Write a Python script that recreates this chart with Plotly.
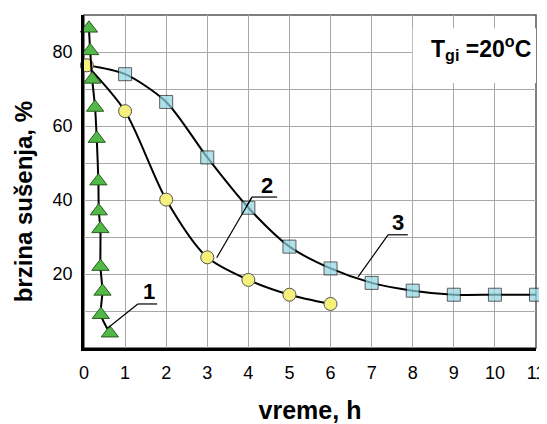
import plotly.graph_objects as go

# ---- data ----
s1_x = [0.12, 0.15, 0.20, 0.27, 0.31, 0.35, 0.36, 0.40, 0.40, 0.45, 0.41, 0.63]
s1_y = [86.4, 80.3, 72.6, 65.0, 56.6, 45.1, 37.0, 32.2, 22.0, 15.3, 9.0, 4.0]

s2_x = [0.07, 1, 2, 3, 4, 5, 6]
s2_y = [76.4, 64.0, 40.1, 24.5, 18.4, 14.4, 11.9]

s3_x = [0.07, 1, 2, 3, 4, 5, 6, 7, 8, 9, 10, 11]
s3_y = [76.4, 74.0, 66.5, 51.5, 37.9, 27.4, 21.5, 17.6, 15.5, 14.4, 14.4, 14.4]

x_ticks = list(range(0, 12))
y_ticks = [20, 40, 60, 80]
y_grid = [10, 20, 30, 40, 50, 60, 70, 80]

x_title = "vreme, h"
y_title = "brzina sušenja, %"
temp_label = "T<sub>gi</sub> =20<sup>o</sup>C"

FONT = "Liberation Sans, Arial, sans-serif"
GREEN = "#52b848"
BLUE = "#8fd4e2"
YELLOW = "#f6f07c"

fig = go.Figure()

# curve 3 (squares) - line starts at shared start point
fig.add_trace(go.Scatter(
    x=s3_x, y=s3_y, mode="lines+markers", cliponaxis=False,
    line=dict(color="black", width=2, shape="spline", smoothing=0.8),
    marker=dict(symbol="square", size=[0] + [13] * (len(s3_x) - 1), color=BLUE,
                line=dict(color="#1a1a1a", width=1)),
    showlegend=False, hoverinfo="skip"))

# curve 2 (circles)
fig.add_trace(go.Scatter(
    x=s2_x, y=s2_y, mode="lines+markers", cliponaxis=False,
    line=dict(color="black", width=2, shape="spline", smoothing=0.8),
    marker=dict(symbol="circle", size=13, color=YELLOW,
                line=dict(color="#555555", width=1)),
    showlegend=False, hoverinfo="skip"))

# curve 1 (triangles)
fig.add_trace(go.Scatter(
    x=s1_x, y=s1_y, mode="lines+markers", cliponaxis=False,
    line=dict(color="black", width=2, shape="spline", smoothing=0.6),
    marker=dict(symbol="triangle-up", size=15, color=GREEN,
                line=dict(color="#2a5a20", width=1)),
    showlegend=False, hoverinfo="skip"))

shapes = []
# white box behind temperature label (above grid, below traces)
shapes.append(dict(type="rect", xref="x", yref="y", x0=8.0, x1=11, y0=71.6, y1=86.4,
                   fillcolor="white", line=dict(width=0), layer="between"))
# frame (top/right gray)
shapes.append(dict(type="rect", xref="paper", yref="paper", x0=0, x1=1, y0=0, y1=1,
                   line=dict(color="#555555", width=1.5), layer="between"))

# leader lines
leaders = [
    # label 1
    ((1.31, 11.9), (1.78, 11.9)),
    ((1.31, 11.9), (0.58, 5.4)),
    # label 2
    ((4.09, 40.8), (4.70, 40.8)),
    ((4.09, 40.8), (3.23, 24.4)),
    ((4.09, 40.8), (3.95, 38.2)),
    # label 3
    ((7.40, 30.6), (7.88, 30.6)),
    ((7.40, 30.6), (6.67, 19.2)),
]
for (a, b) in leaders:
    shapes.append(dict(type="line", xref="x", yref="y", x0=a[0], y0=a[1], x1=b[0], y1=b[1],
                       line=dict(color="black", width=1.2), layer="above"))

annotations = [
    dict(x=1.58, y=15.2, text="<b>1</b>", showarrow=False, xref="x", yref="y",
         font=dict(family=FONT, size=22, color="black")),
    dict(x=4.45, y=43.9, text="<b>2</b>", showarrow=False, xref="x", yref="y",
         font=dict(family=FONT, size=22, color="black")),
    dict(x=7.64, y=34.0, text="<b>3</b>", showarrow=False, xref="x", yref="y",
         font=dict(family=FONT, size=22, color="black")),
    dict(x=11, y=81.0, xanchor="right", xshift=-3, text="<b>" + temp_label + "</b>",
         showarrow=False, xref="x", yref="y",
         font=dict(family=FONT, size=23, color="black")),
    # y-axis title (placed a little below the axis middle, as in the source)
    dict(x=-0.133, y=0.44, xref="paper", yref="paper", text="<b>" + y_title + "</b>",
         textangle=-90, showarrow=False, xanchor="center", yanchor="middle",
         font=dict(family=FONT, size=24, color="black")),
]

# the page body has an 8px default margin, so the figure is laid out 8px smaller
fig.update_layout(
    width=539, height=416,
    margin=dict(l=76, r=11, t=7, b=76),
    paper_bgcolor="white", plot_bgcolor="white",
    shapes=shapes, annotations=annotations,
    font=dict(family=FONT, color="black"),
    xaxis=dict(
        range=[0, 11], tickvals=x_ticks, ticktext=[str(v) for v in x_ticks],
        showgrid=True, gridcolor="#a8a8a8", gridwidth=1,
        showline=True, linecolor="black", linewidth=2.5,
        ticks="", ticklabelstandoff=7, zeroline=False, automargin=False,
        tickfont=dict(family=FONT, size=18, color="black"),
        title=dict(text="<b>" + x_title + "</b>", standoff=20,
                   font=dict(family=FONT, size=25, color="black")),
    ),
    yaxis=dict(
        range=[0, 90], tickvals=y_ticks, ticktext=[str(v) for v in y_ticks],
        showgrid=True, gridcolor="#a8a8a8", gridwidth=1,
        minor=dict(tickvals=y_grid, showgrid=True, gridcolor="#a8a8a8", gridwidth=1, ticks=""),
        showline=True, linecolor="black", linewidth=2.5,
        ticks="", ticklabelstandoff=5, zeroline=False, automargin=False,
        tickfont=dict(family=FONT, size=18, color="black"),
    ),
)

fig.write_html("out.html")
